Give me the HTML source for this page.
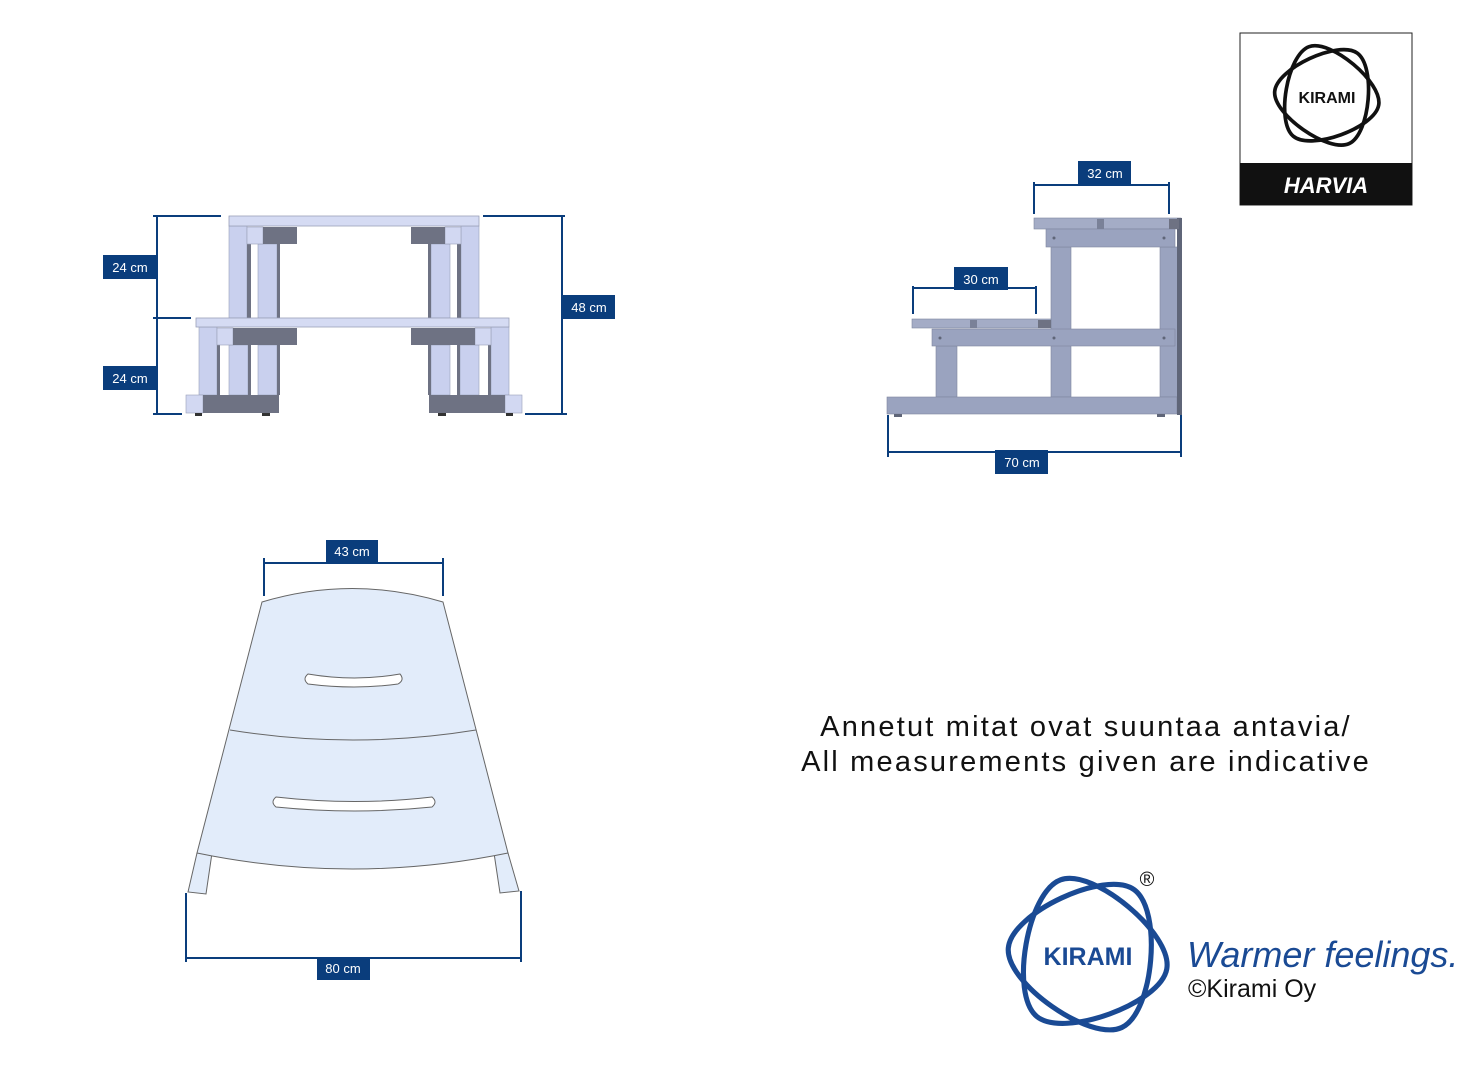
<!DOCTYPE html>
<html><head><meta charset="utf-8"><style>
html,body{margin:0;padding:0;background:#fff}
svg{display:block}
text{font-family:"Liberation Sans","DejaVu Sans",sans-serif}
</style></head><body>
<svg width="1467" height="1066" viewBox="0 0 1467 1066" xmlns="http://www.w3.org/2000/svg">
<defs>
<g id="fhalf">
 <rect x="229" y="226" width="18" height="92" fill="#c9d0ee" stroke="#9aa0b8" stroke-width="0.6"/>
 <rect x="247" y="244" width="4" height="74" fill="#6e7283"/>
 <rect x="258" y="244" width="19" height="74" fill="#c9d0ee" stroke="#9aa0b8" stroke-width="0.6"/>
 <rect x="277" y="244" width="3" height="74" fill="#6e7283"/>
 <rect x="247" y="227" width="16" height="17" fill="#d2d8f2" stroke="#9aa0b8" stroke-width="0.6"/>
 <rect x="263" y="227" width="34" height="17" fill="#6e7283"/>
 <rect x="199" y="327" width="18" height="68" fill="#c9d0ee" stroke="#9aa0b8" stroke-width="0.6"/>
 <rect x="217" y="345" width="3" height="50" fill="#6e7283"/>
 <rect x="229" y="345" width="19" height="50" fill="#c9d0ee" stroke="#9aa0b8" stroke-width="0.6"/>
 <rect x="248" y="345" width="3" height="50" fill="#6e7283"/>
 <rect x="258" y="345" width="19" height="50" fill="#c9d0ee" stroke="#9aa0b8" stroke-width="0.6"/>
 <rect x="277" y="345" width="3" height="50" fill="#6e7283"/>
 <rect x="217" y="328" width="16" height="17" fill="#d2d8f2" stroke="#9aa0b8" stroke-width="0.6"/>
 <rect x="233" y="328" width="64" height="17" fill="#6e7283"/>
 <rect x="186" y="395" width="17" height="18" fill="#d2d8f2" stroke="#9aa0b8" stroke-width="0.6"/>
 <rect x="203" y="395" width="76" height="18" fill="#6e7283"/>
 <rect x="195" y="413" width="7" height="3" fill="#333"/>
 <rect x="262" y="413" width="8" height="3" fill="#333"/>
</g>
<path id="ringA" d="M0,-50 C22,-50 54.3,5.9 43.3,25 C32.3,44 -32.3,44 -43.3,25 C-54.3,5.9 -22,-50 0,-50 Z"/>
</defs>

<!-- FRONT VIEW -->
<use href="#fhalf"/>
<use href="#fhalf" transform="translate(708,0) scale(-1,1)"/>
<rect x="229" y="216" width="250" height="10" fill="#d5dbf3" stroke="#9aa0b8" stroke-width="0.8"/>
<rect x="196" y="318" width="313" height="9" fill="#d5dbf3" stroke="#9aa0b8" stroke-width="0.8"/>

<g stroke="#0a3d7c" stroke-width="2" fill="none">
 <line x1="157" y1="216" x2="157" y2="414"/>
 <line x1="153" y1="216" x2="221" y2="216"/>
 <line x1="153" y1="318" x2="191" y2="318"/>
 <line x1="153" y1="414" x2="182" y2="414"/>
 <line x1="562" y1="216" x2="562" y2="414"/>
 <line x1="483" y1="216" x2="565" y2="216"/>
 <line x1="525" y1="414" x2="567" y2="414"/>
</g>
<g font-size="13" fill="#fff" text-anchor="middle">
 <rect x="103" y="255" width="54" height="24" fill="#0a3d7c"/><text x="130" y="272">24 cm</text>
 <rect x="103" y="366" width="54" height="24" fill="#0a3d7c"/><text x="130" y="383">24 cm</text>
 <rect x="562" y="295" width="53" height="24" fill="#0a3d7c"/><text x="589" y="312">48 cm</text>
</g>

<!-- SIDE VIEW -->
<g fill="#9aa3bf" stroke="#7f879f" stroke-width="0.6">
 <rect x="1051" y="247" width="20" height="150"/>
 <rect x="1160" y="247" width="18" height="150"/>
 <rect x="936" y="346" width="21" height="51"/>
 <rect x="1034" y="218" width="147" height="11" fill="#a4acc6"/>
 <rect x="1046" y="229" width="129" height="18"/>
 <rect x="912" y="319" width="139" height="9" fill="#a4acc6"/>
 <rect x="932" y="329" width="243" height="17"/>
 <rect x="887" y="397" width="290" height="17"/>
</g>
<rect x="1177" y="218" width="5" height="197" fill="#5f6578"/>
<rect x="1169" y="219" width="10" height="10" fill="#6e7283"/>
<rect x="1097" y="219" width="7" height="10" fill="#7a8198"/>
<rect x="1038" y="320" width="13" height="8" fill="#6e7283"/>
<rect x="970" y="320" width="7" height="8" fill="#7a8198"/>
<g fill="#5f6578">
 <circle cx="1054" cy="238" r="1.5"/><circle cx="1164" cy="238" r="1.5"/>
 <circle cx="940" cy="338" r="1.5"/><circle cx="1054" cy="338" r="1.5"/><circle cx="1164" cy="338" r="1.5"/>
 <rect x="894" y="414" width="8" height="3"/><rect x="1157" y="414" width="8" height="3"/>
</g>
<g stroke="#0a3d7c" stroke-width="2" fill="none">
 <line x1="1034" y1="185" x2="1169" y2="185"/>
 <line x1="1034" y1="182" x2="1034" y2="214"/>
 <line x1="1169" y1="182" x2="1169" y2="214"/>
 <line x1="913" y1="288" x2="1036" y2="288"/>
 <line x1="913" y1="286" x2="913" y2="314"/>
 <line x1="1036" y1="286" x2="1036" y2="314"/>
 <line x1="888" y1="452" x2="1181" y2="452"/>
 <line x1="888" y1="415" x2="888" y2="457"/>
 <line x1="1181" y1="415" x2="1181" y2="457"/>
</g>
<g font-size="13" fill="#fff" text-anchor="middle">
 <rect x="1078" y="161" width="53" height="24" fill="#0a3d7c"/><text x="1105" y="178">32 cm</text>
 <rect x="954" y="267" width="54" height="23" fill="#0a3d7c"/><text x="981" y="284">30 cm</text>
 <rect x="995" y="450" width="53" height="24" fill="#0a3d7c"/><text x="1022" y="467">70 cm</text>
</g>

<!-- TOP VIEW -->
<g stroke="#666" stroke-width="1" fill="#e2ecfa">
 <polygon points="197,853 188,892 206,894 212,853"/>
 <polygon points="494,853 500,893 519,891 508,853"/>
 <path d="M262,602 Q352,575 443,602 L508,853 Q352,885 197,853 Z"/>
 <path d="M230,730 Q353,750 476,730" fill="none"/>
 <path d="M308,674 Q355,682 400,674 Q405,680 398,684 Q355,690 308,684 Q302,679 308,674 Z" fill="#fff"/>
 <path d="M276,797 Q355,806 432,797 Q438,802 432,807 Q355,815 276,807 Q270,802 276,797 Z" fill="#fff"/>
</g>
<g stroke="#0a3d7c" stroke-width="2" fill="none">
 <line x1="264" y1="563" x2="443" y2="563"/>
 <line x1="264" y1="558" x2="264" y2="596"/>
 <line x1="443" y1="558" x2="443" y2="596"/>
 <line x1="186" y1="958" x2="521" y2="958"/>
 <line x1="186" y1="893" x2="186" y2="962"/>
 <line x1="521" y1="891" x2="521" y2="962"/>
</g>
<g font-size="13" fill="#fff" text-anchor="middle">
 <rect x="326" y="540" width="52" height="23" fill="#0a3d7c"/><text x="352" y="556">43 cm</text>
 <rect x="317" y="957" width="53" height="23" fill="#0a3d7c"/><text x="343" y="973">80 cm</text>
</g>

<!-- Note -->
<g font-size="29" fill="#111" text-anchor="middle" letter-spacing="2.2">
 <text x="1086" y="736">Annetut mitat ovat suuntaa antavia/</text>
 <text x="1086" y="771">All measurements given are indicative</text>
</g>

<!-- Harvia logo -->
<rect x="1240" y="33" width="172" height="172" fill="#fff" stroke="#222" stroke-width="1"/>
<rect x="1240" y="163" width="172" height="42" fill="#111"/>
<text x="1326" y="193" font-size="22" font-weight="bold" font-style="italic" fill="#fff" text-anchor="middle">HARVIA</text>
<g fill="none" stroke="#111" stroke-width="3.5" transform="translate(1327,96) scale(1.05)">
 <use href="#ringA" transform="rotate(-20)"/>
 <use href="#ringA" transform="rotate(35)"/>
</g>
<text x="1327" y="103" font-size="16" font-weight="bold" fill="#111" text-anchor="middle">KIRAMI</text>

<!-- Kirami blue logo -->
<g fill="none" stroke="#1a4a94" stroke-width="3.2" transform="translate(1088,955) scale(1.6)">
 <use href="#ringA" transform="rotate(-20)"/>
 <use href="#ringA" transform="rotate(35)"/>
</g>
<text x="1088" y="965" font-size="25" font-weight="bold" fill="#1a4a94" text-anchor="middle">KIRAMI</text>
<text x="1147" y="886" font-size="20" fill="#111" text-anchor="middle">®</text>
<text x="1187" y="967" font-size="36" font-style="italic" fill="#1a4a94">Warmer feelings.</text>
<text x="1188" y="997" font-size="25" fill="#111">©Kirami Oy</text>
</svg>
</body></html>
